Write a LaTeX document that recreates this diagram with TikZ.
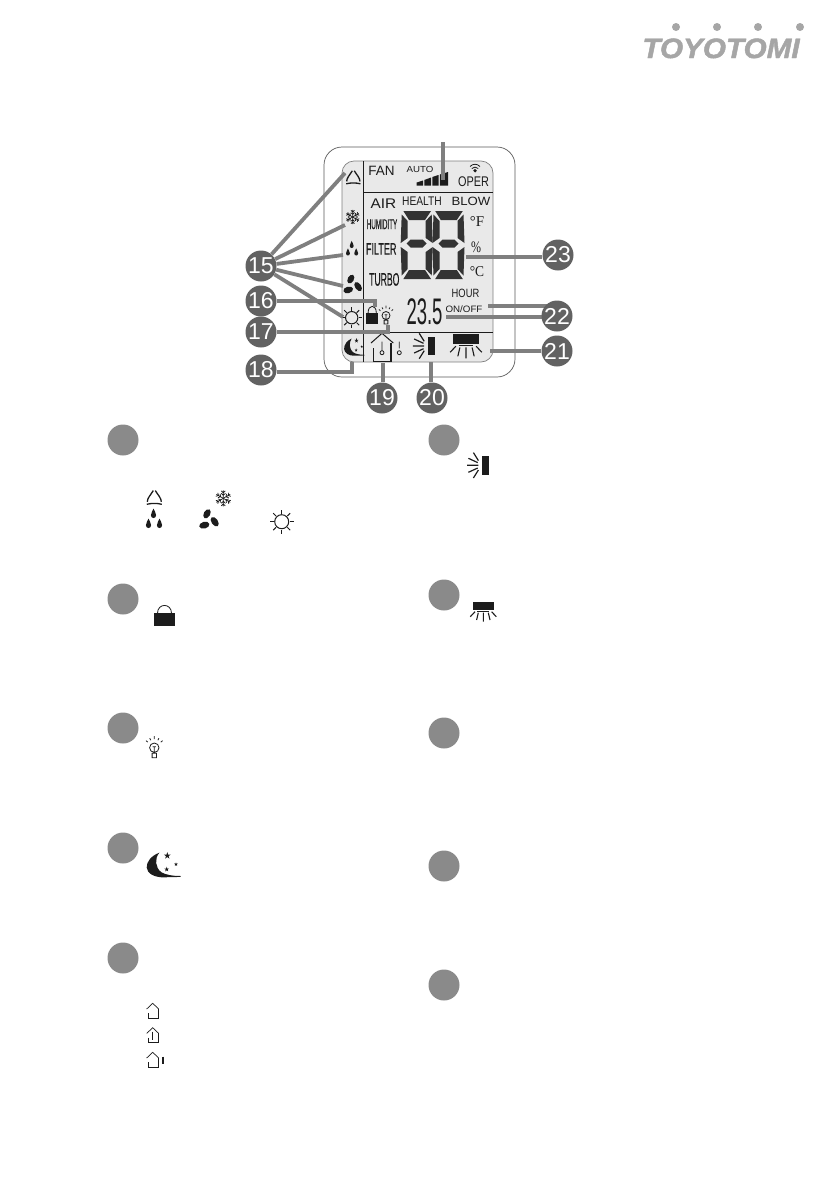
\documentclass[tikz,border=0pt]{standalone}
\usepackage{fontspec}
\usepackage{graphicx}
\setmainfont{Liberation Sans}
\newfontfamily\serifface{Liberation Serif}
\newfontfamily\condface[FakeBold=.5]{Liberation Sans}
\newfontfamily\logoface[UprightFont={* Bold Italic},FakeBold=1.6]{Liberation Sans}
\newcommand{\fsz}[1]{\fontsize{#1}{#1}\selectfont}
\newcommand{\sx}[2]{\scalebox{#1}[1]{#2}}
\definecolor{badgedark}{HTML}{626262}
\definecolor{badgelight}{HTML}{8A8A8A}
\definecolor{leadergrey}{HTML}{7F7F7F}
\definecolor{lcdgrey}{HTML}{E9E9E9}
\definecolor{ink}{HTML}{1C1C1C}
\definecolor{logogrey}{HTML}{A6A6A6}
\tikzset{
  badge/.style={circle,fill=badgedark,text=white,minimum size=31pt,inner sep=0pt,font=\fsz{23}},
  legendbadge/.style={circle,fill=badgelight,minimum size=31pt,inner sep=0pt},
  leader/.style={draw=leadergrey,line width=3.8pt},
  lcdline/.style={draw=ink,line width=.8pt},
  lcdtext/.style={inner sep=0pt,anchor=base,text=ink},
  iconline/.style={draw=ink,line width=1pt},
  iconbell/.pic={
    \draw[iconline,line width=1.3pt] (-1,.3) .. controls (-4,5) and (-7,8) .. (-7,11.5)
      (1,.3) .. controls (4,5) and (7,8) .. (7,11.5)
      (-7.5,14) .. controls (-3,12.8) and (3,12.8) .. (7.5,14);
  },
  iconsnow/.pic={
    \foreach \a in {0,60,120,180,240,300}{
      \draw[draw=ink,line width=.7pt,rotate=\a] (0,0) -- (0,-8)
        (0,-3) -- (2.2,-5) (0,-3) -- (-2.2,-5)
        (0,-5.5) -- (2,-7.5) (0,-5.5) -- (-2,-7.5);
    }
  },
  icondrops/.pic={
    \foreach \p in {(0,-4.5),(-5,5.5),(6,5.5)}{
      \fill[ink,shift={\p}] (0,-5) .. controls (.6,-2.5) and (2.6,-1) .. (2.6,1.6)
        .. controls (2.6,3.6) and (1.4,4.5) .. (0,4.5)
        .. controls (-1.4,4.5) and (-2.6,3.6) .. (-2.6,1.6)
        .. controls (-2.6,-1) and (-.6,-2.5) .. (0,-5) -- cycle;
    }
  },
  iconfan/.pic={
    \fill[ink] (-2,-5.2) circle[x radius=3.2,y radius=5,rotate=-30];
    \fill[ink] (5.7,2.7) circle[x radius=3.2,y radius=5.4,rotate=35];
    \fill[ink] (-4.7,6.2) circle[x radius=5.2,y radius=3.4,rotate=15];
  },
  iconsun/.pic={
    \draw[draw=ink,line width=1pt] (0,0) circle[radius=7];
    \foreach \a in {0,45,...,315}{
      \draw[draw=ink,line width=1pt] (\a:8) -- (\a:12);
    }
  },
  iconlock/.pic={
    \fill[ink] (-10.5,0) rectangle (10.5,12.7);
    \draw[draw=ink,line width=.8pt] (-7,0) .. controls (-7,-10.5) and (7,-10.5) .. (7,0);
  },
  iconbulb/.pic={
    \draw[draw=ink,line width=.8pt] (0,0) circle[radius=4.7]
      (0,-1) -- (0,4.7) (-1.6,-1) -- (1.6,-1)
      (-2.2,5.5) rectangle (2.2,10)
      (0,-8.5) -- (0,-11.5) (-3.6,-7.5) -- (-4.6,-9.5) (-6.5,-5.6) -- (-8.3,-7)
      (3.6,-7.5) -- (4.6,-9.5) (6.5,-5.6) -- (8.3,-7);
  },
  iconmoon/.pic={
    \fill[ink] (0,0) .. controls (-8,3) and (-13,9) .. (-12.6,15)
      .. controls (-12.3,21) and (-4,25) .. (5,24.6) -- (21.4,24.2) -- (21.4,23.3)
      .. controls (14,23.5) and (6,22) .. (2,19.5)
      .. controls (-4,15) and (-5,6) .. (0,0) -- cycle;
    \foreach \p/\r in {(8,3)/3.6,(16.7,11.6)/2,(7.4,16.6)/2.6}{
      \fill[ink,shift={\p}] (-90:\r) -- (54:\r) -- (198:\r) -- (342:\r) -- (126:\r) -- cycle;
    }
  },
  iconsweep/.pic={
    \fill[ink] (0,-9.3) rectangle (7,9.3);
    \draw[draw=ink,line width=1.2pt] (-8.3,-12.7) -- (-3.3,-4.7) (-13.3,-7) -- (-4,-2.7)
      (-14.7,0) -- (-3.3,0) (-13.3,7) -- (-4,2.7) (-8.3,12.7) -- (-3.3,4.7);
  },
  iconvane/.pic={
    \fill[ink] (-10.7,0) rectangle (10.7,8.3);
    \draw[draw=ink,line width=1.1pt] (0,11) -- (0,20) (-5,11) -- (-6.7,18.3) (5,11) -- (6.7,18.3)
      (-8.3,10) -- (-13,15) (8.3,10) -- (13,15);
    \draw[draw=ink,line width=.5pt] (-6,9.4) -- (6,9.4);
  },
  iconhouse/.pic={
    \draw[draw=ink,line width=.7pt] (-6,5.7) -- (0,0) -- (6,5.7);
    \draw[draw=ink,line width=1pt] (-4.4,10) -- (-4.4,15) -- (6,15) -- (6,5.7);
  },
  sevenseg/.pic={
    \fill[ink!90]
      (2.7,0) -- (30.3,0) -- (24.3,9) -- (8.3,9) -- cycle
      (1,3.5) -- (7,10) -- (7,27) -- (0,32) -- cycle
      (31,3.5) -- (25,10) -- (25,27) -- (32,32) -- cycle
      (6,32.5) -- (10,28.5) -- (22,28.5) -- (26,32.5) -- (22,36.5) -- (10,36.5) -- cycle
      (0,36) -- (7,41) -- (7,58) -- (1,64.5) -- cycle
      (32,36) -- (25,41) -- (25,58) -- (31,64.5) -- cycle
      (8.3,59) -- (24.3,59) -- (30.3,68) -- (2.7,68) -- cycle;
  },
}
\begin{document}
\begin{tikzpicture}[x=1pt,y=-1pt]
\useasboundingbox (0,0) rectangle (840,1192);
% logo
\foreach \n/\x in {a/676,b/717,c/758,d/800}{\fill[logogrey] (\x,27) circle[radius=4];}
\node[inner sep=0pt,anchor=base,text=logogrey,font=\logoface\fsz{28}] (logo) at (721,58) {\sx{1.06}{TOYOTOMI}};
% device
\draw[draw=black!65,line width=.7pt,rounded corners=18pt] (324,147) rectangle (515,377);
\draw[draw=black!50,fill=lcdgrey,line width=.7pt,rounded corners=12pt] (342,161) rectangle (493,362);
\draw[lcdline] (363,161) -- (363,362);
\draw[lcdline] (363,192) -- (493,192);
\draw[lcdline] (363,332) -- (493,332);
% lcd texts
\node[lcdtext,font=\fsz{13.5}] (tfan) at (381.5,175.5) {FAN};
\node[lcdtext,font=\fsz{8.8}] (tauto) at (420,172) {\sx{1.1}{AUTO}};
\node[lcdtext,font=\fsz{14}] (toper) at (473.5,186) {\sx{.78}{OPER}};
\node[lcdtext,font=\fsz{14}] (tair) at (383.5,208.3) {\sx{1.1}{AIR}};
\node[lcdtext,font=\fsz{12.5}] (thealth) at (422,205.8) {\sx{.82}{HEALTH}};
\node[lcdtext,font=\fsz{12}] (tblow) at (471,205.6) {\sx{1.1}{BLOW}};
\node[lcdtext,font=\condface\fsz{14}] (thum) at (382,229) {\sx{.45}{HUMIDITY}};
\node[lcdtext,font=\condface\fsz{16.5}] (tfilter) at (381.2,254.6) {\sx{.55}{FILTER}};
\node[lcdtext,font=\condface\fsz{18}] (tturbo) at (384.3,285.6) {\sx{.48}{TURBO}};
\node[lcdtext,font=\serifface\fsz{15}] (tf) at (477,226.5) {°F};
\node[lcdtext,font=\serifface\fsz{16}] (tpct) at (476,252.5) {\sx{.75}{\%}};
\node[lcdtext,font=\serifface\fsz{15}] (tc) at (477,276) {\sx{.9}{°C}};
\node[lcdtext,font=\fsz{12}] (thour) at (465.5,297.7) {\sx{.78}{HOUR}};
\node[lcdtext,font=\fsz{9.3}] (tonoff) at (464,312.5) {\sx{1.05}{ON/OFF}};
\node[lcdtext,font=\fsz{37}] (ttemp) at (424.5,324.5) {\sx{.5}{23.5}};
% fan bars
\fill[ink] (416.7,185.7) -- (416.7,182.5) -- (423,180.5) -- (423,185.7) -- cycle
  (424.3,185.7) -- (424.3,180) -- (431,177.5) -- (431,185.7) -- cycle
  (432.3,185.7) -- (432.3,177) -- (438.5,175) -- (438.5,185.7) -- cycle
  (439.8,185.7) -- (439.8,174.5) -- (448,172) -- (448,185.7) -- cycle;
% signal icon above OPER
\draw[draw=ink,line width=.8pt] (470,166.5) .. controls (473,163.5) and (477,163.5) .. (480,166.5)
  (471.8,168.5) .. controls (474,166.7) and (476,166.7) .. (478.2,168.5);
\fill[ink] (475,170.7) circle[radius=1.8];
% big digits
\pic at (400.7,211) {sevenseg};
\pic at (432.5,211) {sevenseg};
% lcd icons
\pic[scale=.95] at (353.3,170.5) {iconbell};
\pic[scale=.88] at (352.7,217) {iconsnow};
\pic[scale=.75] at (351.7,248) {icondrops};
\pic[scale=.95] at (352.7,284) {iconfan};
\pic[scale=.88] at (351.7,317.7) {iconsun};
\pic[xscale=.59,yscale=.85] at (372.2,313) {iconlock};
\pic[scale=.85] at (386,315.5) {iconbulb};
\pic[xscale=.6,yscale=.7] at (351.7,338.5) {iconmoon};
\pic at (427.5,346) {iconsweep};
\pic[scale=1.22] at (466,334) {iconvane};
% lcd house
\draw[draw=ink,line width=1pt] (371,343) -- (382,333.3) -- (393.3,343);
\draw[draw=ink,line width=1.2pt] (373.3,348) -- (373.3,361.7) -- (391,361.7) -- (391,343);
\draw[draw=ink,line width=.8pt] (382,341.5) -- (382,350) (399.3,341.7) -- (399.3,348.3)
  (382,352.7) circle[radius=2] (399.3,352.7) circle[radius=2];
% leader ends
\coordinate (e15a) at (345,173);
\coordinate (e15b) at (345,225);
\coordinate (e15c) at (343,255);
\coordinate (e15d) at (343,286);
\coordinate (e15e) at (343,317);
\coordinate (e16) at (375,307);
\coordinate (e17) at (388,325);
\coordinate (e18) at (352,362);
\coordinate (e19) at (383,363);
\coordinate (e20) at (431,362);
\coordinate (e21) at (490,351);
\coordinate (e22a) at (488,306);
\coordinate (e22b) at (446,317);
\coordinate (s22a) at (550,306);
\coordinate (s22b) at (550,317);
\coordinate (e23) at (466,257);
\coordinate (etopa) at (443,142);
\coordinate (etopb) at (443,180);
% leaders that run beneath badge 22
\draw[leader] (s22a) -- (e22a);
\draw[leader] (s22b) -- (e22b);
% badges
\node[badge] (b15) at (261,266) {15};
\node[badge] (b16) at (261,301) {16};
\node[badge] (b17) at (261,332) {17};
\node[badge] (b18) at (261,370) {18};
\node[badge] (b19) at (382,398) {19};
\node[badge] (b20) at (432,398) {20};
\node[badge] (b21) at (557,351) {21};
\node[badge] (b22) at (557,316) {22};
\node[badge] (b23) at (558,255) {23};
% leaders
\draw[leader] (etopa) -- (etopb);
\draw[leader] (b15) -- (e15a);
\draw[leader] (b15) -- (e15b);
\draw[leader] (b15) -- (e15c);
\draw[leader] (b15) -- (e15d);
\draw[leader] (b15) -- (e15e);
\draw[leader] (b16) -| (e16);
\draw[leader] (b17) -| (e17);
\draw[leader] (b18.east |- 0,372) -| (e18);
\draw[leader] (e19 |- b19.north) -- (e19);
\draw[leader] (e20 |- b20.north) -- (e20);
\draw[leader] (b21) -- (e21);
\draw[leader] (b23.west |- e23) -- (e23);
% legend badges
\node[legendbadge] (k15) at (123,440) {};
\node[legendbadge] (k16) at (123,599) {};
\node[legendbadge] (k17) at (123,728) {};
\node[legendbadge] (k18) at (123,848) {};
\node[legendbadge] (k19) at (123,958) {};
\node[legendbadge] (k20) at (444,440) {};
\node[legendbadge] (k21) at (444,595) {};
\node[legendbadge] (k22) at (444,733) {};
\node[legendbadge] (k23) at (444,866) {};
\node[legendbadge] (k24) at (444,985) {};
% legend icons
\pic at (154.3,490.3) {iconbell};
\pic at (223.3,498.3) {iconsnow};
\pic at (153.5,518) {icondrops};
\pic at (209,519) {iconfan};
\pic at (281.7,521.7) {iconsun};
\pic at (164.5,613.3) {iconlock};
\pic at (154.3,747.7) {iconbulb};
\pic at (159.3,852.7) {iconmoon};
\pic at (152.7,1003.3) {iconhouse};
\pic at (152.7,1027.7) {iconhouse};
\pic at (152.7,1052.3) {iconhouse};
\draw[draw=ink,line width=1.3pt] (152.7,1031.5) -- (152.7,1040) (163,1056.7) -- (163,1064.3);
\pic at (481.7,465.3) {iconsweep};
\pic at (483.3,601.7) {iconvane};
\end{tikzpicture}
\end{document}
